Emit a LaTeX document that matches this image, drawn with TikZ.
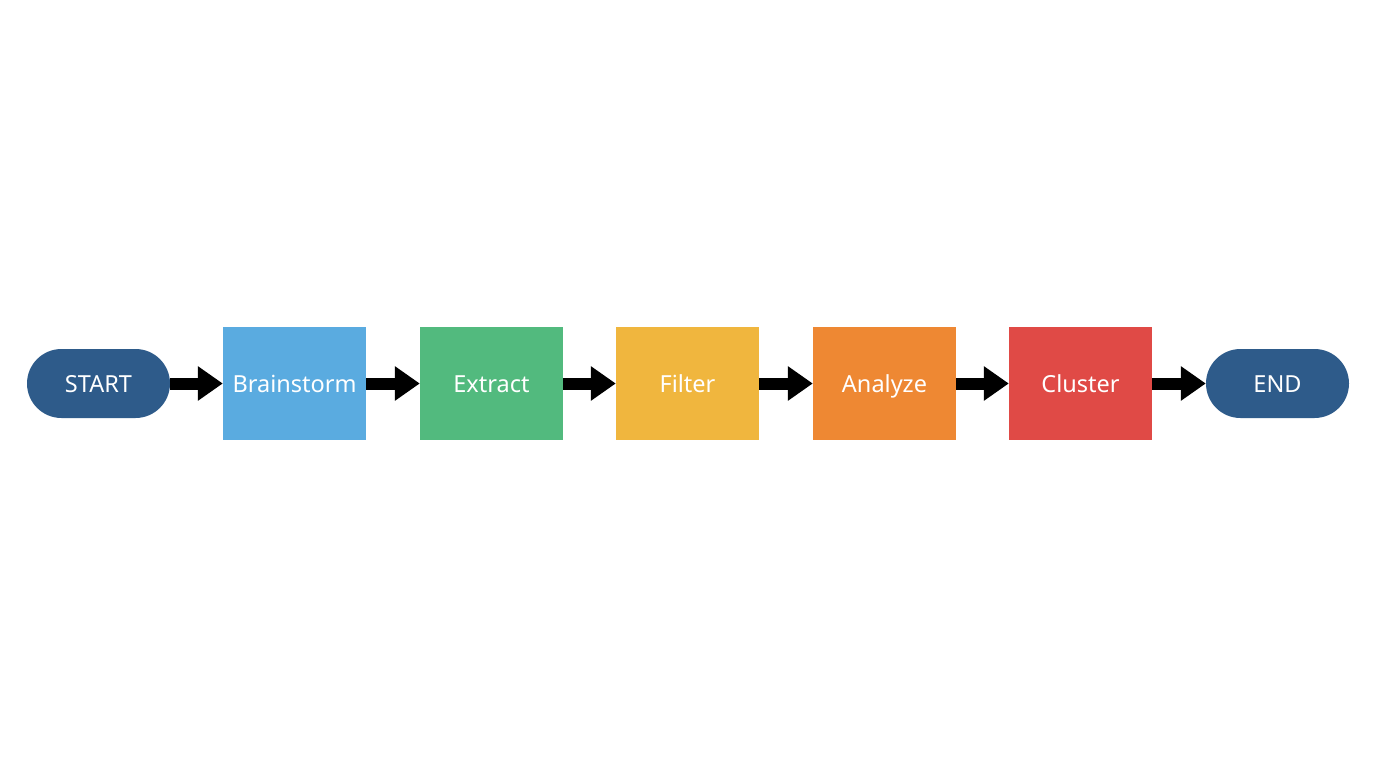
\documentclass[tikz,border=0pt]{standalone}
\usepackage{fontspec}
\setmainfont{Noto Sans}
\usetikzlibrary{arrows.meta}
\definecolor{navy}{HTML}{2E5B8A}
\definecolor{cblue}{HTML}{5AABE0}
\definecolor{cgreen}{HTML}{52BA7E}
\definecolor{cyellow}{HTML}{F0B63E}
\definecolor{corange}{HTML}{EE8833}
\definecolor{cred}{HTML}{E04A46}
\tikzset{
  label font/.style={text=white, font=\fontsize{23.5}{28}\selectfont, text height=17pt, text depth=0pt},
  term/.style={fill=navy, rounded corners=34.5pt, minimum width=143pt, minimum height=69pt, inner sep=0pt, label font},
  stepbox/.style={minimum width=143pt, minimum height=113pt, inner sep=0pt, label font},
  flow/.style={line width=12pt, -{Triangle[length=25pt,width=33pt]}}
}
\begin{document}
\begin{tikzpicture}[x=1pt,y=-1pt]
\useasboundingbox[fill=white] (0,0) rectangle (1376,768);
\node[term] (start) at (98.5,383.5) {START};
\node[stepbox, fill=cblue] (b1) at (294.5,383.5) {Brainstorm};
\node[stepbox, fill=cgreen] (b2) at (491.5,383.5) {Extract};
\node[stepbox, fill=cyellow] (b3) at (687.5,383.5) {Filter};
\node[stepbox, fill=corange] (b4) at (884.5,383.5) {Analyze};
\node[stepbox, fill=cred] (b5) at (1080.5,383.5) {Cluster};
\node[term] (end) at (1277.5,383.5) {END};
\draw[flow] (start.east) -- (b1.west);
\draw[flow] (b1.east) -- (b2.west);
\draw[flow] (b2.east) -- (b3.west);
\draw[flow] (b3.east) -- (b4.west);
\draw[flow] (b4.east) -- (b5.west);
\draw[flow] (b5.east) -- (end.west);
\end{tikzpicture}
\end{document}
